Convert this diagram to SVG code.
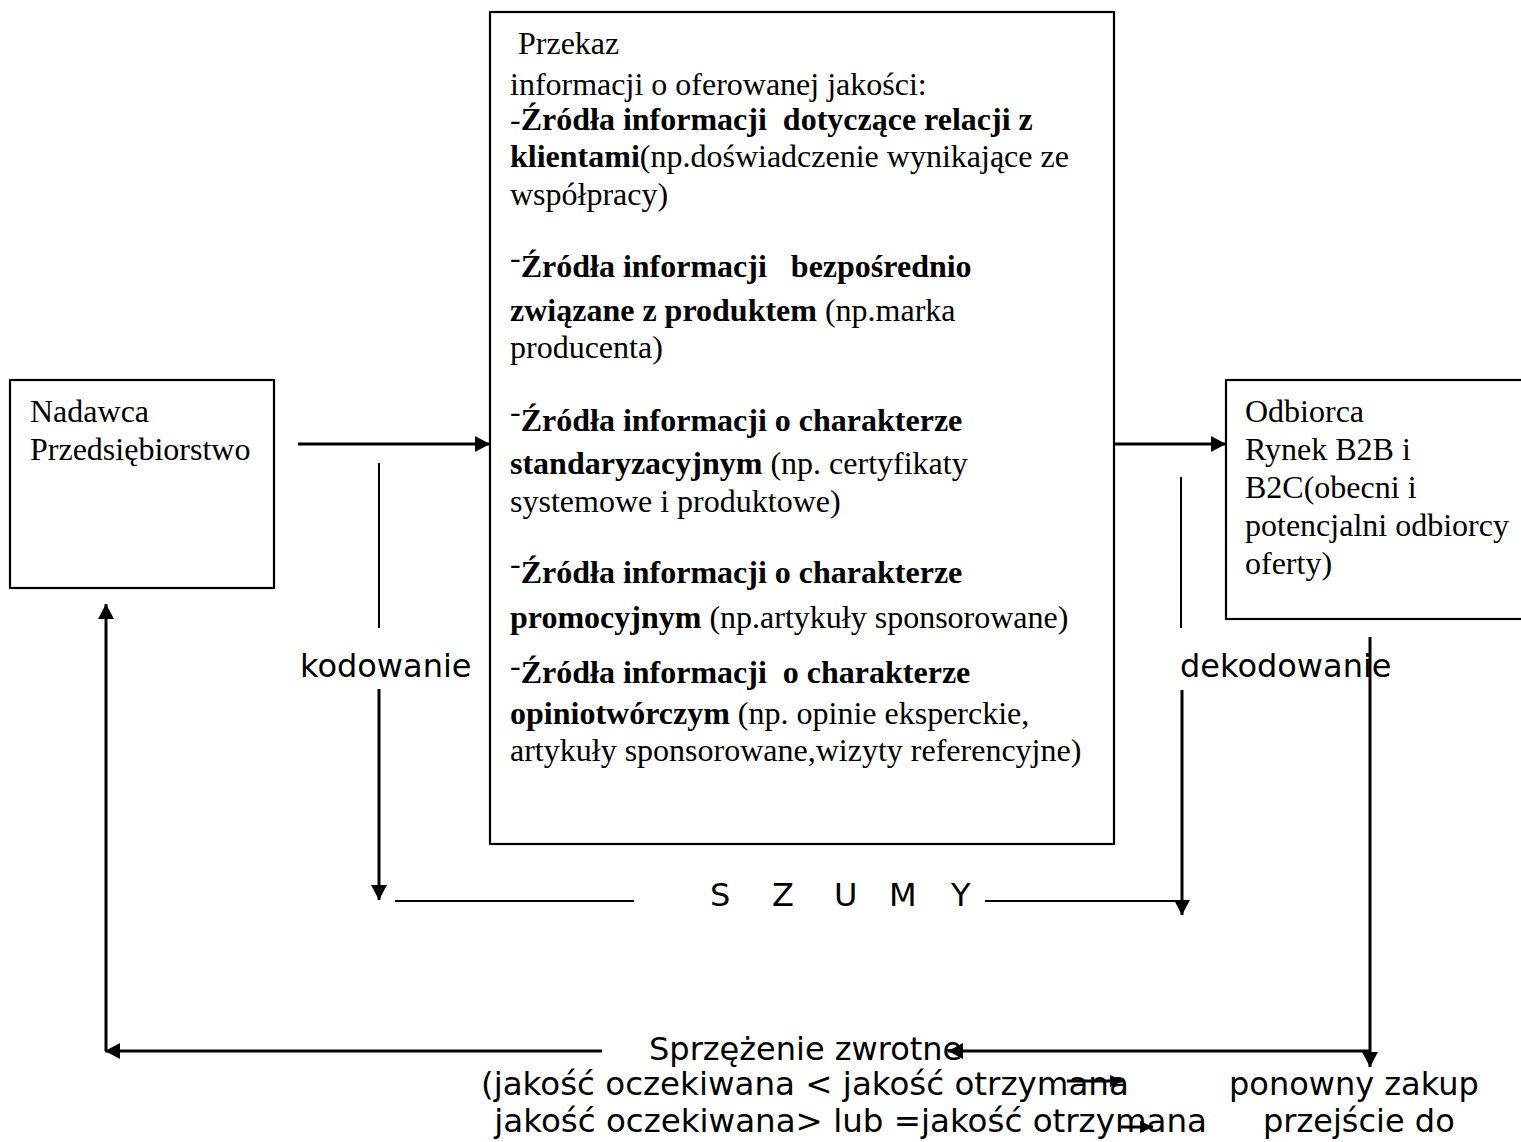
<svg xmlns="http://www.w3.org/2000/svg" width="1521" height="1142" viewBox="0 0 1521 1142">
<style>
.box{fill:#fff;stroke:#000;stroke-width:2.2}
.serif{font-family:"Liberation Serif","Times New Roman",serif;font-size:32px;fill:#000;white-space:pre}
.b{font-weight:bold}
.sans{font-family:"DejaVu Sans",sans-serif;font-size:32px;fill:#000;white-space:pre}
.wide{font-size:32.5px}
.thick{stroke:#000;stroke-width:3;fill:none}
.thin{stroke:#000;stroke-width:2;fill:none}
</style>
<defs>
<marker id="ah" markerUnits="userSpaceOnUse" markerWidth="16" markerHeight="16" refX="15" refY="8" orient="auto">
<path d="M0,0 L15,8 L0,16 Z" fill="#000"/>
</marker>
<marker id="ahs" markerUnits="userSpaceOnUse" markerWidth="14" markerHeight="14" refX="13" refY="6" orient="auto">
<path d="M0,0 L13,6 L0,12 Z" fill="#000"/>
</marker>
</defs>
<rect width="1521" height="1142" fill="#fff"/>

<g id="nadawca">
<rect class="box" x="10" y="380" width="264" height="208"/>
<text class="serif" x="30" y="422">Nadawca</text>
<text class="serif" x="30" y="460">Przedsiębiorstwo</text>
</g>

<g id="przekaz">
<rect class="box" x="490" y="12" width="624" height="832"/>
<text class="serif" x="510" y="54"> Przekaz</text>
<text class="serif" x="510" y="95">informacji o oferowanej jakości:</text>
<text class="serif" x="510" y="130">-<tspan class="b">Źródła informacji  dotyczące relacji z</tspan></text>
<text class="serif" x="510" y="167"><tspan class="b">klientami</tspan>(np.doświadczenie wynikające ze</text>
<text class="serif" x="510" y="205">współpracy)</text>
<text class="serif" x="510" y="277"><tspan dy="-9">-</tspan><tspan class="b" dy="9">Źródła informacji   bezpośrednio</tspan></text>
<text class="serif" x="510" y="321"><tspan class="b">związane z produktem</tspan> (np.marka</text>
<text class="serif" x="510" y="358">producenta)</text>
<text class="serif" x="510" y="431"><tspan dy="-9">-</tspan><tspan class="b" dy="9">Źródła informacji o charakterze</tspan></text>
<text class="serif" x="510" y="474"><tspan class="b">standaryzacyjnym</tspan> (np. certyfikaty</text>
<text class="serif" x="510" y="512">systemowe i produktowe)</text>
<text class="serif" x="510" y="583"><tspan dy="-9">-</tspan><tspan class="b" dy="9">Źródła informacji o charakterze</tspan></text>
<text class="serif" x="510" y="628"><tspan class="b">promocyjnym</tspan> (np.artykuły sponsorowane)</text>
<text class="serif" x="510" y="683"><tspan dy="-7">-</tspan><tspan class="b" dy="7">Źródła informacji  o charakterze</tspan></text>
<text class="serif" x="510" y="724"><tspan class="b">opiniotwórczym</tspan> (np. opinie eksperckie,</text>
<text class="serif" x="510" y="761">artykuły sponsorowane,wizyty referencyjne)</text>
</g>

<g id="odbiorca">
<rect class="box" x="1226" y="380" width="310" height="239"/>
<text class="serif" x="1245" y="422">Odbiorca</text>
<text class="serif" x="1245" y="460">Rynek B2B i</text>
<text class="serif" x="1245" y="498">B2C(obecni i</text>
<text class="serif" x="1245" y="536">potencjalni odbiorcy</text>
<text class="serif" x="1245" y="574">oferty)</text>
</g>

<g id="labels">
<text class="sans" x="300" y="677">kodowanie</text>
<text class="sans" x="1180" y="677">dekodowanie</text>
<text class="sans" y="906"><tspan x="710">S</tspan> <tspan x="772">Z</tspan> <tspan x="834">U</tspan> <tspan x="889">M</tspan> <tspan x="951">Y</tspan></text>
<text class="sans" x="649" y="1060">Sprzężenie zwrotne</text>
<text class="sans wide" x="481" y="1095">(jakość oczekiwana &lt; jakość otrzymana</text>
<text class="sans wide" x="484" y="1132"> jakość oczekiwana&gt; lub =jakość otrzymana</text>
<text class="sans" x="1229" y="1095">ponowny zakup</text>
<text class="sans" x="1263" y="1132">przejście do</text>
</g>

<g id="connectors">
<line class="thick" x1="298" y1="444" x2="490" y2="444" marker-end="url(#ah)"/>
<line class="thick" x1="1114" y1="444" x2="1226" y2="444" marker-end="url(#ah)"/>
<line class="thin" x1="379" y1="463" x2="379" y2="628"/>
<line class="thick" x1="379" y1="689" x2="379" y2="900" marker-end="url(#ah)"/>
<line class="thin" x1="395" y1="901" x2="634" y2="901"/>
<line class="thin" x1="985" y1="901" x2="1179" y2="901"/>
<line class="thin" x1="1181" y1="477" x2="1181" y2="628"/>
<line class="thick" x1="1182" y1="690" x2="1182" y2="915" marker-end="url(#ah)"/>
<line class="thick" x1="1370" y1="637" x2="1370" y2="1067" marker-end="url(#ah)"/>
<line class="thick" x1="1370" y1="1051" x2="948" y2="1051" marker-end="url(#ah)"/>
<line class="thick" x1="602" y1="1051" x2="105" y2="1051" marker-end="url(#ah)"/>
<line class="thick" x1="106" y1="1051" x2="106" y2="604" marker-end="url(#ah)"/>
<line class="thick" x1="1067" y1="1081" x2="1123" y2="1081" marker-end="url(#ahs)"/>
<line class="thick" x1="1121" y1="1127" x2="1153" y2="1127" marker-end="url(#ahs)"/>
</g>
</svg>
